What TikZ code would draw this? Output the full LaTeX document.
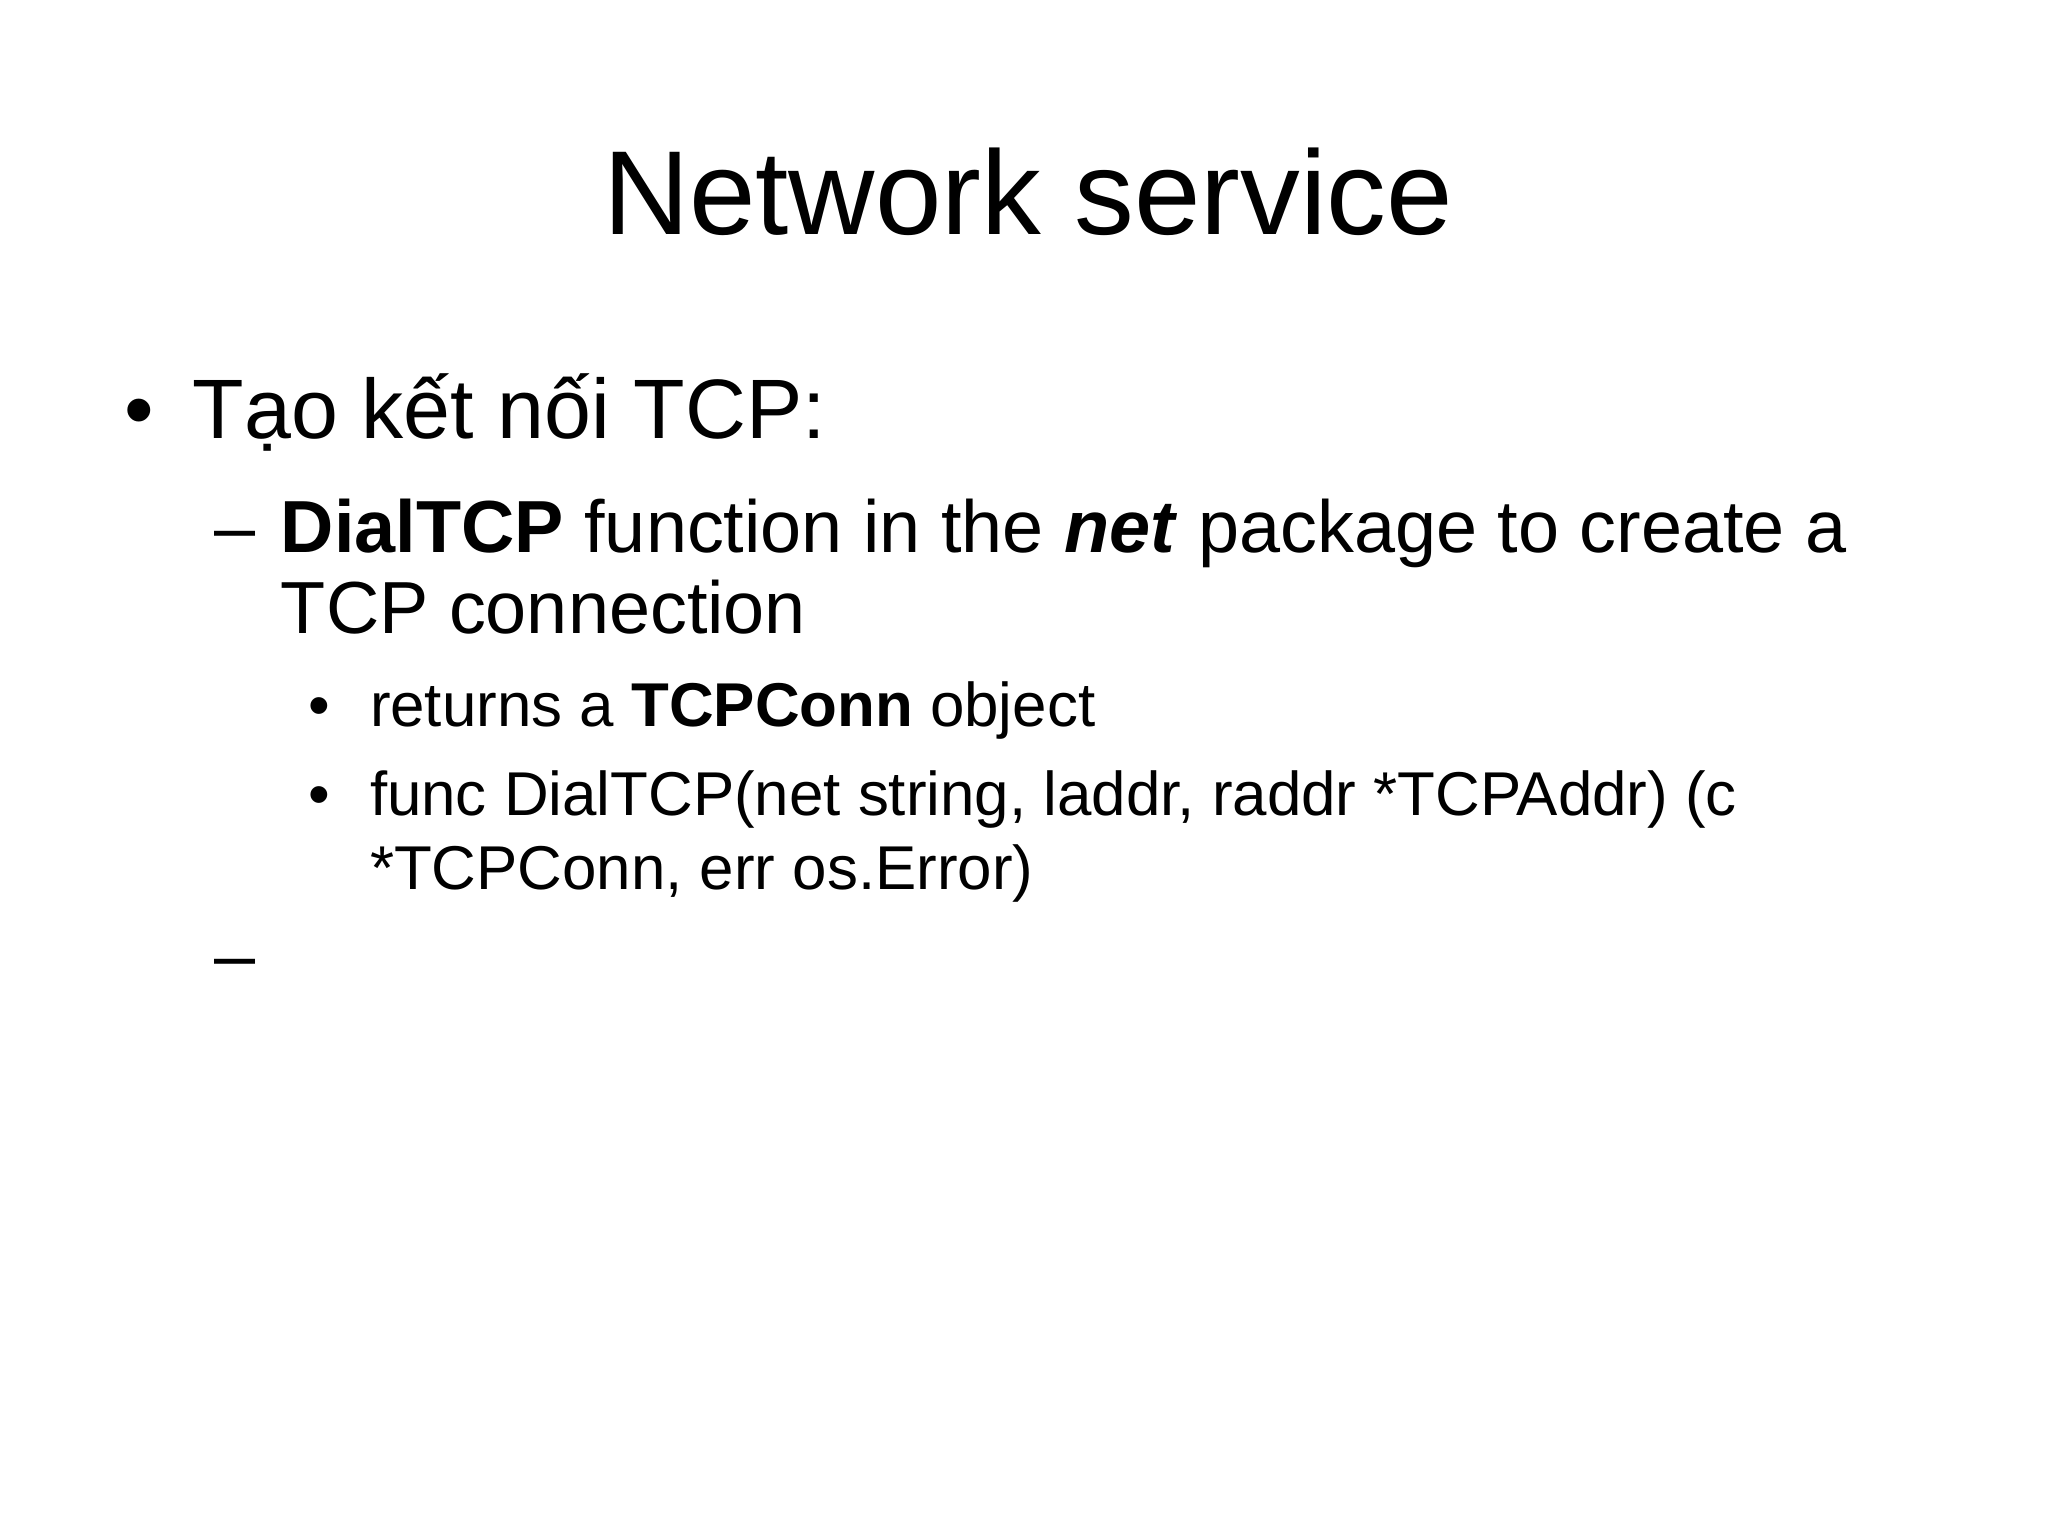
\documentclass[tikz,border=0pt]{standalone}
\usepackage{fontspec}
\setmainfont{Liberation Sans}
\begin{document}
\begin{tikzpicture}[x=1cm,y=-1cm,
  t/.style={anchor=base west,inner sep=0pt,outer sep=0pt},
  lone/.style={t,font=\fontsize{24}{29}\selectfont},
  ltwo/.style={t,font=\fontsize{21}{25}\selectfont},
  lthree/.style={t,font=\fontsize{17.6}{21}\selectfont}]
\useasboundingbox (0,0) rectangle (20.48,15.35);
\node[anchor=base,inner sep=0pt,font=\fontsize{34}{40}\selectfont] (title) at (10.28,2.34) {Network service};
\node[lone] (b1) at (1.25,4.38) {•};
\node[lone] (t1) at (1.93,4.38) {Tạo kết nối TCP:};
\node[ltwo] (d1) at (2.15,5.52) {–};
\node[ltwo] (t2a) at (2.81,5.52) {\textbf{DialTCP} function in the \textbf{\textit{net}} package to create a};
\node[ltwo] (t2b) at (2.81,6.33) {TCP connection};
\node[lthree] (b3a) at (3.08,7.26) {•};
\node[lthree] (t3a) at (3.70,7.26) {returns a \textbf{TCPConn} object};
\node[lthree] (b3b) at (3.08,8.15) {•};
\node[lthree] (t3b) at (3.70,8.15) {func DialTCP(net string, laddr, raddr *TCPAddr) (c};
\node[lthree] (t3c) at (3.70,8.89) {*TCPConn, err os.Error)};
\node[ltwo] (d2) at (2.15,9.80) {–};
\end{tikzpicture}
\end{document}
